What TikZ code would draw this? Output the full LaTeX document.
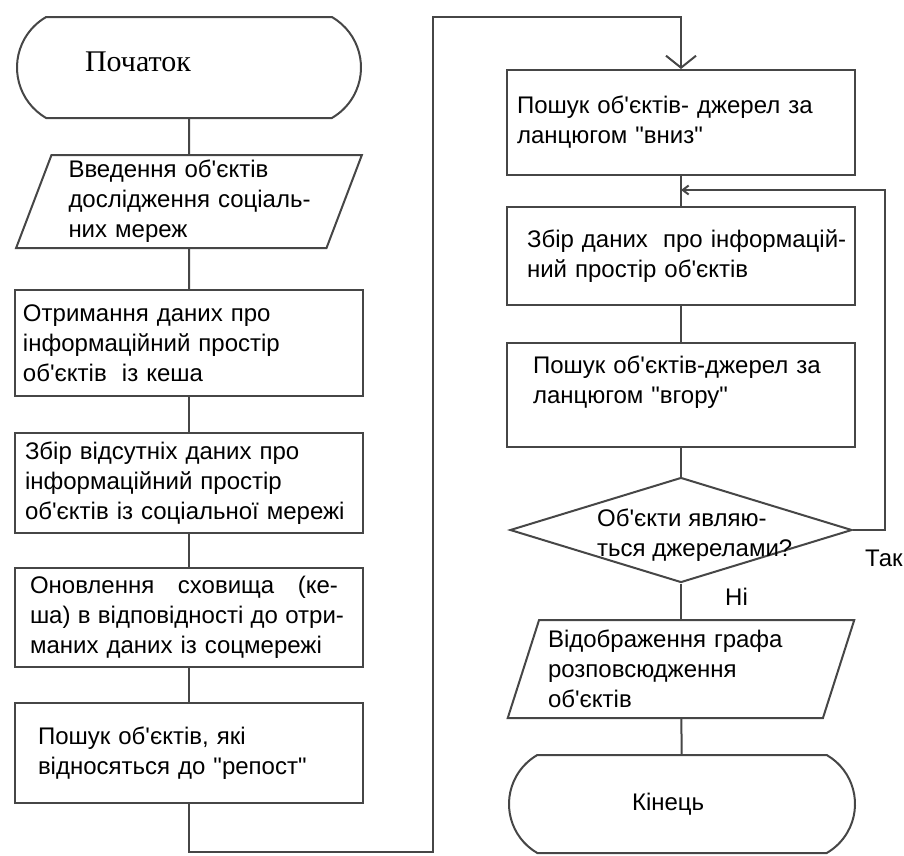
\documentclass[tikz,border=0pt]{standalone}
\usepackage{fontspec}
\setmainfont{Liberation Sans}
\newfontfamily\startfont{Liberation Serif}
\usetikzlibrary{shapes.geometric,shapes.misc,arrows.meta}
\definecolor{linecol}{RGB}{70,70,70}
\newcommand{\ap}{\textquotesingle}
\newcommand{\qd}{\textquotedbl}

\begin{document}
\begin{tikzpicture}[x=1pt,y=-1pt,
  every node/.style={font=\fontsize{24}{30}\selectfont, text=black},
  flowline/.style={draw=linecol, line width=2pt},
  procbox/.style={rectangle, draw=linecol, line width=2pt, minimum width=348pt, align=left, inner sep=2pt},
  iobox/.style={trapezium, trapezium left angle=70, trapezium right angle=110,
    trapezium stretches=true, draw=linecol, line width=2pt, align=left, inner sep=2pt},
  termbox/.style={rounded rectangle, rounded rectangle arc length=120, draw=linecol,
    line width=2pt, align=left, inner sep=2pt},
  decbox/.style={diamond, draw=linecol, line width=2pt, inner sep=0pt},
  plainlabel/.style={inner sep=0pt},
]
\useasboundingbox (0,0) rectangle (904,855);

% left column
\node[termbox, minimum width=348pt, minimum height=101pt, text width=208pt,
  font=\startfont\fontsize{30}{36}\selectfont] (start) at (189,67.5)
  {\raisebox{6pt}[20pt][0pt]{Початок}};
\node[iobox, minimum width=347pt, minimum height=93pt, text width=241pt] (input) at (189,201.5)
  {\mbox{Введення об\ap єктів}\\\mbox{дослідження соціаль-}\\\mbox{них мереж}};
\node[procbox, minimum height=106pt, text width=332pt] (cache) at (189,343)
  {\mbox{Отримання даних про}\\\mbox{інформаційний простір}\\\mbox{об\ap єктів\hspace{0.3em} із кеша}};
\node[procbox, minimum height=100pt, text width=328pt] (fetch) at (189,483)
  {\mbox{Збір відсутніх даних про}\\\mbox{інформаційний простір}\\\mbox{об\ap єктів із соціальної мережі}};
\node[procbox, minimum height=99pt, text width=318pt] (update) at (189,617.5)
  {\leavevmode\hbox to 308pt{Оновлення\hfill сховища\hfill (ке-}\\
   \leavevmode\hbox to 314pt{\spaceskip=4pt plus 4pt minus 1pt ша) в відповідності до отри-}\\
   \mbox{маних даних із соцмережі}};
\node[procbox, minimum height=100pt, text width=302pt] (repost) at (189,753)
  {\mbox{Пошук об\ap єктів, які}\\\mbox{відносяться до \qd репост\qd}};

% right column
\node[procbox, minimum height=105pt, text width=328pt] (down) at (681,122.5)
  {\mbox{Пошук об\ap єктів- джерел за}\\\mbox{ланцюгом \qd вниз\qd}};
\node[procbox, minimum height=98pt, text width=308pt] (collect) at (681,256)
  {\mbox{Збір даних\hspace{0.3em} про інформацій-}\\\mbox{ний простір об\ap єктів}};
\node[procbox, minimum height=104pt, text width=296pt] (up) at (681,395)
  {\mbox{Пошук об\ap єктів-джерел за}\\\mbox{ланцюгом \qd вгору\qd}\\\mbox{}};
\node[decbox, minimum width=342pt, minimum height=105pt] (check) at (681,530) {};
\node[plainlabel, anchor=west, align=left] (checktext) at (597,535)
  {Об\ap єкти являю-\\ться джерелами?};
\node[iobox, minimum width=348pt, minimum height=98pt, text width=266pt] (show) at (681,669)
  {\mbox{Відображення графа}\\\mbox{розповсюдження}\\\mbox{об\ap єктів}};
\node[termbox, minimum width=350pt, minimum height=98pt, text width=100pt] (stop) at (682,804) {Кінець};

\node[plainlabel, anchor=west] (yes) at (865,558) {Так};
\node[plainlabel, anchor=west] (no) at (725,597) {Ні};

% connectors
\draw[flowline] (start) -- (input);
\draw[flowline] (input) -- (cache);
\draw[flowline] (cache) -- (fetch);
\draw[flowline] (fetch) -- (update);
\draw[flowline] (update) -- (repost);

\coordinate (c1) at (189,852);
\coordinate (c2) at (433,852);
\coordinate (c3) at (433,17);
\coordinate (c4) at (681,17);
\draw[flowline, -{Straight Barb[length=12pt,width=30pt]}]
  (repost.south) -- (c1) -- (c2) -- (c3) -- (c4) -- (down.north);

\draw[flowline] (down) -- (collect);
\draw[flowline] (collect) -- (up);
\draw[flowline] (up) -- (check);
\draw[flowline] (check) -- (show);
\draw[flowline] (show) -- (stop);

\coordinate (loopA) at (885,530);
\coordinate (loopB) at (885,190);
\coordinate (join) at (681,190);
\draw[flowline, -{Straight Barb[length=6pt,width=9pt]}]
  (check.east) -- (loopA) -- (loopB) -- (join);
\end{tikzpicture}
\end{document}
